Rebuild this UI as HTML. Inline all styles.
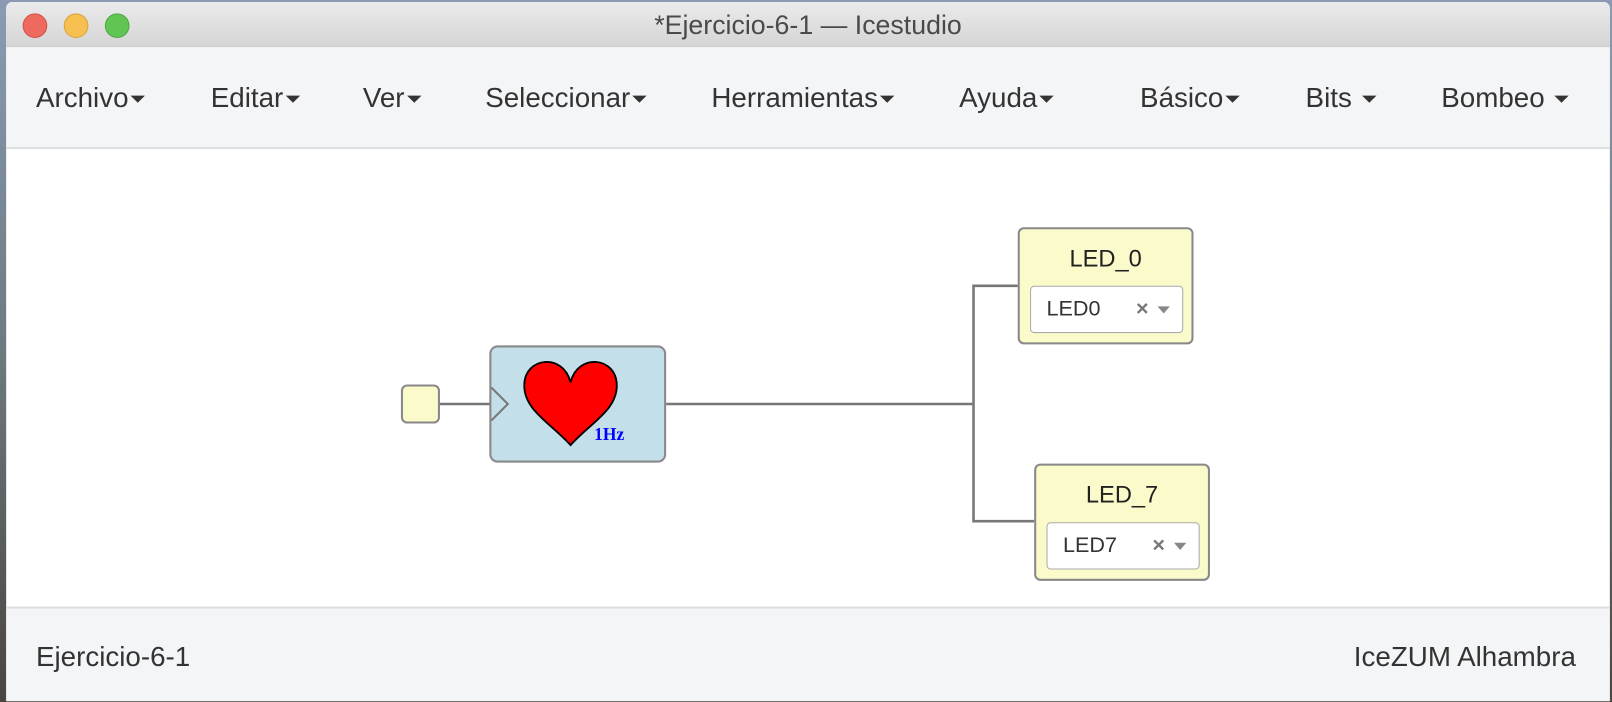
<!DOCTYPE html>
<html><head><style>
body{margin:0;width:1612px;height:702px;overflow:hidden;background:linear-gradient(#8a9bb3,#6d7a80 50%,#4a4540);font-family:"Liberation Sans",sans-serif;position:relative}
#wrap{position:absolute;left:0;top:0;width:1568px;height:683px;transform:scale(1.028);transform-origin:0 0}
.win{position:absolute;left:6px;top:2px;width:1560px;height:680px;background:#fff;border-radius:6px 6px 0 0;overflow:hidden}
.title{position:absolute;left:0;top:0;width:100%;height:43px;background:linear-gradient(#ebebeb,#d5d5d5);border-bottom:1px solid #c8c8c8;text-align:center;line-height:44px;font-size:26px;color:#4a4a4a}
.dot{position:absolute;top:11px;width:22px;height:22px;border-radius:50%}
.menu{position:absolute;left:0;top:44px;width:100%;height:97px;background:#f4f5f7;border-bottom:2px solid #dcdfe2}
.menu span{position:absolute;top:34px;font-size:27px;color:#333}
.car{display:inline-block;border-left:7px solid transparent;border-right:7px solid transparent;border-top:7px solid #333;vertical-align:middle;margin-left:2px}
.foot{position:absolute;left:0;top:588px;width:100%;height:92px;background:#f4f5f7;border-top:2px solid #dcdfe2;font-size:27px;color:#333}
.box{position:absolute;border:2px solid #888;border-radius:6px;background:#fbfacb;box-sizing:border-box}
.sel{position:absolute;background:#fff;border:1px solid #aaa;border-radius:4px;font-size:21px;color:#333}
</style></head><body>
<div id="wrap">
<div class="win">
<div class="title">*Ejercicio-6-1 — Icestudio
<div class="dot" style="left:16px;background:#ee6a5e;border:1px solid #d25247"></div>
<div class="dot" style="left:56px;background:#f5c04f;border:1px solid #d8a23b"></div>
<div class="dot" style="left:96px;background:#61c554;border:1px solid #4ea843"></div>
</div>
<div class="menu">
<span style="left:29px">Archivo<i class="car"></i></span>
<span style="left:199px">Editar<i class="car"></i></span>
<span style="left:347px">Ver<i class="car"></i></span>
<span style="left:466px">Seleccionar<i class="car"></i></span>
<span style="left:686px">Herramientas<i class="car"></i></span>
<span style="left:927px">Ayuda<i class="car"></i></span>
<span style="left:1103px">Básico<i class="car"></i></span>
<span style="left:1264px">Bits <i class="car"></i></span>
<span style="left:1396px">Bombeo <i class="car"></i></span>
</div>
<div class="foot"><span style="position:absolute;left:29px;top:32px">Ejercicio-6-1</span><span style="position:absolute;right:33px;top:32px">IceZUM Alhambra</span></div>
</div>
<svg style="position:absolute;left:0;top:0" width="1568" height="683">
<g stroke="#777" stroke-width="2.5" fill="none">
<line x1="427" y1="393" x2="478" y2="393"/>
<polyline points="648,393 947,393"/>
<polyline points="990,278 947,278 947,507 1006,507"/>
</g>
<rect x="391" y="375" width="36" height="36" rx="5" fill="#fbfacb" stroke="#888" stroke-width="2"/>
<rect x="477" y="337" width="170" height="112" rx="7" fill="#c2dfea" stroke="#888" stroke-width="2"/>
<polyline points="478,377 494,393 478,409" fill="none" stroke="#777" stroke-width="2"/>
<path d="M555,372 C548,343 510,347 510,375 C510,399 535,411 555,433 C575,411 600,399 600,375 C600,347 562,343 555,372 Z" fill="#f00" stroke="#000" stroke-width="1.8"/>
<text x="578" y="428" font-family="Liberation Serif" font-weight="bold" font-size="17" fill="#00f">1Hz</text>
</svg>
<div class="box" style="left:990px;top:221px;width:171px;height:114px"><div style="text-align:center;margin-top:15px;font-size:23px;color:#222">LED_0</div>
<div class="sel" style="left:10px;top:55px;width:147px;height:44px"><span style="position:absolute;left:15px;top:10px">LED0</span><span style="position:absolute;left:102px;top:10px;color:#777;font-weight:bold">×</span><span style="position:absolute;left:123px;top:19px;border-left:6px solid transparent;border-right:6px solid transparent;border-top:7px solid #888"></span></div></div>
<div class="box" style="left:1006px;top:451px;width:171px;height:114px"><div style="text-align:center;margin-top:15px;font-size:23px;color:#222">LED_7</div>
<div class="sel" style="left:10px;top:55px;width:147px;height:44px"><span style="position:absolute;left:15px;top:10px">LED7</span><span style="position:absolute;left:102px;top:10px;color:#777;font-weight:bold">×</span><span style="position:absolute;left:123px;top:19px;border-left:6px solid transparent;border-right:6px solid transparent;border-top:7px solid #888"></span></div></div>
</div>
</body></html>
